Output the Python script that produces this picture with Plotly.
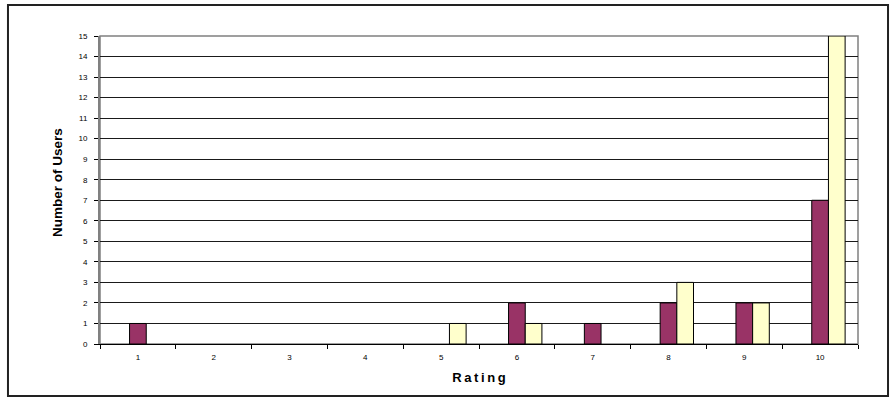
import plotly.graph_objects as go

# Ratings given by users, counted per rating value for two groups
ratings = ["1", "2", "3", "4", "5", "6", "7", "8", "9", "10"]
group_a_counts = [1, 0, 0, 0, 0, 2, 1, 2, 2, 7]
group_b_counts = [0, 0, 0, 0, 1, 1, 0, 3, 2, 15]
y_ticks = list(range(0, 16))

bar_w = 0.22


def outline_widths(values):
    # no outline on empty bars, so they do not thicken the base line
    return [1 if v else 0 for v in values]


fig = go.Figure()
fig.add_trace(go.Bar(
    x=ratings, y=group_a_counts, width=bar_w, offset=-bar_w / 2,
    marker=dict(color="#993366", line=dict(color="#000000", width=outline_widths(group_a_counts))),
    showlegend=False,
))
fig.add_trace(go.Bar(
    x=ratings, y=group_b_counts, width=bar_w, offset=bar_w / 2,
    marker=dict(color="#FFFFCC", line=dict(color="#000000", width=outline_widths(group_b_counts))),
    showlegend=False,
))

font_family = "Liberation Sans, Arial, sans-serif"
fig.update_layout(
    width=891, height=398,
    margin=dict(l=100, r=33, t=36, b=54),
    paper_bgcolor="white", plot_bgcolor="white",
    font=dict(family=font_family, color="black"),
    barmode="overlay",
)
fig.update_xaxes(
    type="category", tickson="boundaries",
    ticks="outside", ticklen=4, tickcolor="#000000", tickwidth=1,
    ticklabelstandoff=5,
    showgrid=False, showline=True, linecolor="#000000", linewidth=1,
    tickfont=dict(size=8, family=font_family),
    title=dict(text="R\u2009a\u2009t\u2009i\u2009n\u2009g", font=dict(size=13, family=font_family, weight="bold"), standoff=12),
)
fig.update_yaxes(
    range=[0, 15], tickvals=y_ticks,
    ticks="outside", ticklen=4, tickcolor="#000000", tickwidth=1,
    ticklabelstandoff=5,
    showgrid=True, gridcolor="#1a1a1a", gridwidth=1,
    showline=True, linecolor="#808080", linewidth=2,
    tickfont=dict(size=8, family=font_family),
    zeroline=False,
)

# Vertical axis title, placed as a rotated annotation
fig.add_annotation(
    text="Number of Users", xref="paper", yref="paper",
    x=-0.0567, y=0.5227, xanchor="center", yanchor="middle",
    textangle=-90, showarrow=False,
    font=dict(size=13.5, family=font_family, weight="bold", color="black"),
)

# Plot-area frame
fig.add_shape(type="rect", xref="paper", yref="paper", x0=0, x1=1, y0=0, y1=1,
              line=dict(color="#808080", width=1.5), layer="below")
# Outer chart frame
fig.add_shape(type="rect", xref="paper", yref="paper",
              x0=-0.1214, x1=1.0396, y0=-0.1688, y1=1.1006,
              line=dict(color="#222222", width=2))

fig.write_html("out.html")
